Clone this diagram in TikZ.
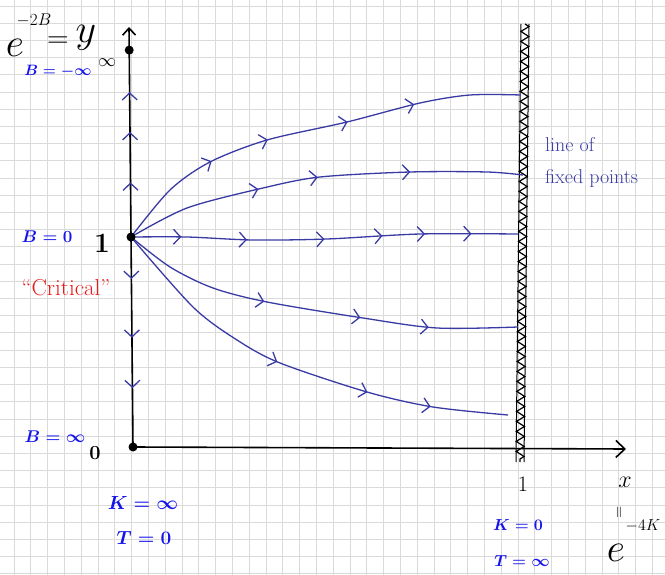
\RequirePackage{fix-cm}
\documentclass[tikz,border=0pt]{standalone}
\usepackage{amsmath,amssymb}
\usepackage{xcolor}
\usepackage{tikz}
\usetikzlibrary{arrows.meta, decorations.markings, decorations.pathmorphing, positioning, calc}

\definecolor{flowblue}{RGB}{58,58,165}
\definecolor{penblue}{RGB}{20,20,235}
\definecolor{penred}{RGB}{235,25,25}
\definecolor{gridgray}{RGB}{218,218,218}

\tikzset{
  gridline/.style={gridgray, line width=0.8pt},
  axis/.style={black, line width=1.6pt},
  flow/.style={flowblue, line width=1.3pt},
  dot/.style={circle, fill=black, inner sep=0pt, minimum size=9pt},
  arrowat/.style={postaction={decorate, decoration={markings,
      mark=at position #1 with {\arrow{Straight Barb[length=7pt,width=15pt]}}}}},
  bluelabel/.style={penblue, inner sep=0pt},
  blacklabel/.style={black, inner sep=0pt}
}

\begin{document}
\begin{tikzpicture}[x=1pt,y=-1pt]
\useasboundingbox (0,0) rectangle (665,575);

%---------------- Grid paper ----------------%
\foreach \k in {0,...,39}{
    \draw[gridline] ({14+16.8*\k},0) -- ({14+16.8*\k},575);
}
\foreach \k in {0,...,33}{
    \draw[gridline] (0,{6.1+17.2*\k}) -- (665,{6.1+17.2*\k});
}

%---------------- Axes ----------------%
\coordinate (O) at (133,447);
\coordinate (ytop) at (129,27);
\coordinate (xend) at (626,449);
\coordinate (crit) at ($(O)!0.5!(ytop)$);
\coordinate (yinf) at ($(O)!0.945!(ytop)$);

\draw[axis,-{Straight Barb[length=7pt,width=13pt]}] (O) -- (ytop);
\draw[axis,-{Straight Barb[length=9pt,width=17pt]}] (O) -- (xend);

% flow along the y axis
\path[flow, arrowat/.list={0.26,0.5,0.69}] (crit) -- (ytop);
\path[flow, arrowat/.list={0.2,0.48,0.72}] (crit) -- (O);

%---------------- Line of fixed points ----------------%
\coordinate (fixtop) at (525,24);
\coordinate (fixbot) at (520,462);
\draw[line width=1pt] ($(fixtop)+(-4,0)$) -- ($(fixbot)+(-4,0)$);
\draw[line width=1pt] ($(fixtop)+(4,0)$) -- ($(fixbot)+(4,0)$);
\draw[line width=1.2pt, decorate,
      decoration={zigzag, segment length=10pt, amplitude=4pt}] (fixtop) -- (fixbot);

%---------------- Flow lines ----------------%
\coordinate (f1) at (521,95);
\coordinate (f2) at (523,175);
\coordinate (f3) at (518,234);
\coordinate (f4) at (518,327);
\coordinate (f5) at (508,415);

\draw[flow, arrowat/.list={0.26,0.4,0.59,0.75}]
    plot[smooth] coordinates {(crit) (170,190) (210,162) (267,140) (347,122) (420,103) (470,95) (f1)};
\draw[flow, arrowat/.list={0.34,0.49,0.72}]
    plot[smooth] coordinates {(crit) (187,208) (263,188) (320,177) (410,172) (487,172) (f2)};
\draw[flow, arrowat/.list={0.13,0.3,0.5,0.65,0.76,0.88}]
    plot[smooth] coordinates {(crit) (187,237) (253,240) (327,239) (420,234) (f3)};
\draw[flow, arrowat/.list={0.37,0.61,0.78}]
    plot[smooth] coordinates {(crit) (170,267) (213,288) (267,302) (363,318) (437,328) (f4)};
\draw[flow, arrowat/.list={0.45,0.67,0.82}]
    plot[smooth] coordinates {(crit) (193,307) (237,340) (280,363) (367,392) (433,407) (f5)};

%---------------- Fixed points ----------------%
\node[dot] (yinfdot) at (yinf) {};
\node[dot] (critdot) at (crit) {};
\node[dot] (Odot) at (O) {};

%---------------- y axis labels ----------------%
\node[blacklabel,font=\fontsize{40}{40}\selectfont] (ylabe) at (15,48) {$e$};
\node[blacklabel,font=\fontsize{17}{17}\selectfont] (ylabexp) at (34,20) {$-2B$};
\node[blacklabel,font=\fontsize{30}{30}\selectfont] (ylabeq) at (58,42) {$=$};
\node[blacklabel,font=\fontsize{40}{40}\selectfont] (ylaby) at (86,38) {$y$};
\node[blacklabel,font=\fontsize{18}{18}\selectfont] (ylabinf) at (107,63) {$\infty$};

\node[bluelabel,font=\fontsize{15}{15}\selectfont\boldmath] (bminf) at (58,71) {$B=-\infty$};
\node[bluelabel,font=\fontsize{17}{17}\selectfont\boldmath] (bzero) at (47,237) {$B=0$};
\node[blacklabel,font=\fontsize{28}{28}\selectfont\bfseries] (yone) at (102,243) {1};
\node[penred,inner sep=0pt,font=\fontsize{23}{23}\selectfont] (critlab) at (66,288) {``Critical''};
\node[bluelabel,font=\fontsize{17}{17}\selectfont\boldmath] (binf) at (55,437) {$B=\infty$};
\node[blacklabel,font=\fontsize{20}{20}\selectfont\bfseries] (yzero) at (95,453) {0};

%---------------- x axis labels ----------------%
\node[bluelabel,font=\fontsize{19}{19}\selectfont\boldmath] (kinf) at (143,503) {$K=\infty$};
\node[bluelabel,font=\fontsize{19}{19}\selectfont\boldmath] (tzero) at (144,538) {$T=0$};
\node[blacklabel,font=\fontsize{22}{22}\selectfont] (xone) at (523,484) {1};
\node[bluelabel,font=\fontsize{16}{16}\selectfont\boldmath] (kzero) at (518,525) {$K=0$};
\node[bluelabel,font=\fontsize{16}{16}\selectfont\boldmath] (tinf) at (522,561) {$T=\infty$};

\node[blacklabel,font=\fontsize{24}{24}\selectfont] (xlabx) at (625,482) {$x$};
\node[blacklabel,font=\fontsize{16}{16}\selectfont,rotate=90] (xlabeq) at (620,512) {$=$};
\node[blacklabel,font=\fontsize{40}{40}\selectfont] (xlabe) at (616,553) {$e$};
\node[blacklabel,font=\fontsize{16}{16}\selectfont] (xlabexp) at (643,526) {$-4K$};

%---------------- Fixed line label ----------------%
\node[flowblue,inner sep=0pt,align=left,anchor=west,
      font=\fontsize{20}{32}\selectfont] (fixlab) at (545,162) {line of\\fixed points};

\end{tikzpicture}
\end{document}
